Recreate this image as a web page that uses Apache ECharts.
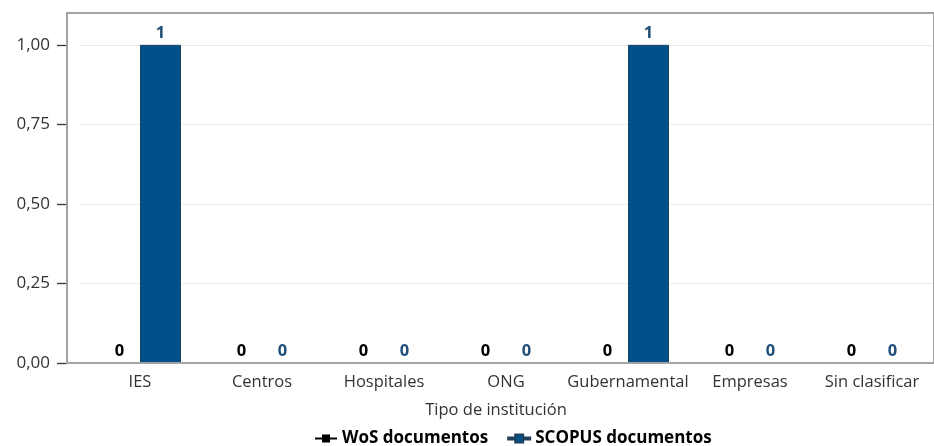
<!DOCTYPE html>
<html>
<head>
<meta charset="utf-8">
<script src="https://cdn.jsdelivr.net/npm/echarts@6/dist/echarts.min.js"></script>
<style>
html,body{margin:0;padding:0;background:#fff;}
#c{width:934px;height:446px;}
</style>
</head>
<body>
<div id="c"></div>
<script>
const categories = ['IES','Centros','Hospitales','ONG','Gubernamental','Empresas','Sin clasificar'];
const wosValues = [0,0,0,0,0,0,0];
const scopusValues = [1,0,0,0,1,0,0];
const yTicks = [0,0.25,0.5,0.75,1];
const seriesNames = ['WoS documentos','SCOPUS documentos'];
const xTitle = 'Tipo de institución';

const FONT = '"Open Sans", "Noto Sans", sans-serif';
const chart = echarts.init(document.getElementById('c'), null, {renderer:'canvas'});
const legendIcon = 'path://M0,4 H7 V1 H15 V4 H22 V6 H15 V9 H7 V6 H0 Z';

chart.setOption({
  animation:false,
  backgroundColor:'#fff',
  textStyle:{fontFamily:FONT},
  grid:[
    {left:79, right:1, top:13, bottom:83, containLabel:false},
    {left:67, right:-3, top:13, bottom:83, show:true, borderColor:'#a3a3a3', borderWidth:2, backgroundColor:'transparent', z:5}
  ],
  legend:{
    data:seriesNames.map(n=>({name:n, icon:legendIcon})),
    left:310, top:425,
    itemWidth:22, itemHeight:9, itemGap:19, itemTextGap:6,
    textStyle:{fontFamily:FONT, fontSize:17, fontWeight:'bold', color:'#000'}
  },
  xAxis:[
    {type:'category', gridIndex:0, data:categories,
     axisLine:{show:false}, axisTick:{show:false},
     axisLabel:{fontFamily:FONT, fontSize:16.5, color:'#333', margin:11, interval:0},
     name:xTitle, nameLocation:'middle', nameGap:39,
     nameTextStyle:{fontFamily:FONT, fontSize:16.5, color:'#333', padding:[0,20,0,0]}
    },
    {type:'category', gridIndex:1, data:categories, show:false}
  ],
  yAxis:[
    {type:'value', gridIndex:0, min:0, max:1.1, interval:0.25, offset:12,
     axisLine:{show:false},
     axisTick:{show:true, length:10, customValues:yTicks, lineStyle:{color:'#333', width:1.3}},
     axisLabel:{fontFamily:FONT, fontSize:17, color:'#333', margin:17, customValues:yTicks,
       formatter:v=>v.toFixed(2).replace('.',',')},
     splitLine:{show:true, lineStyle:{color:'#ebebeb', width:1}}
    },
    {type:'value', gridIndex:1, min:0, max:1.1, show:false, splitLine:{show:false}}
  ],
  series:[
    {name:seriesNames[0], type:'bar', xAxisIndex:0, yAxisIndex:0, data:wosValues,
     barWidth:41, barGap:'0%',
     itemStyle:{color:'#000'},
     label:{show:true, position:'top', distance:3, fontFamily:FONT, fontSize:16.5, fontWeight:'bold', color:'#000'}
    },
    {name:seriesNames[1], type:'bar', xAxisIndex:0, yAxisIndex:0, data:scopusValues,
     barWidth:41, barGap:'0%',
     itemStyle:{color:'#00508a', borderColor:'#21405e', borderWidth:1},
     label:{show:true, position:'top', distance:3, fontFamily:FONT, fontSize:16.5, fontWeight:'bold', color:'#1f4e79'}
    }
  ]
});
</script>
</body>
</html>
